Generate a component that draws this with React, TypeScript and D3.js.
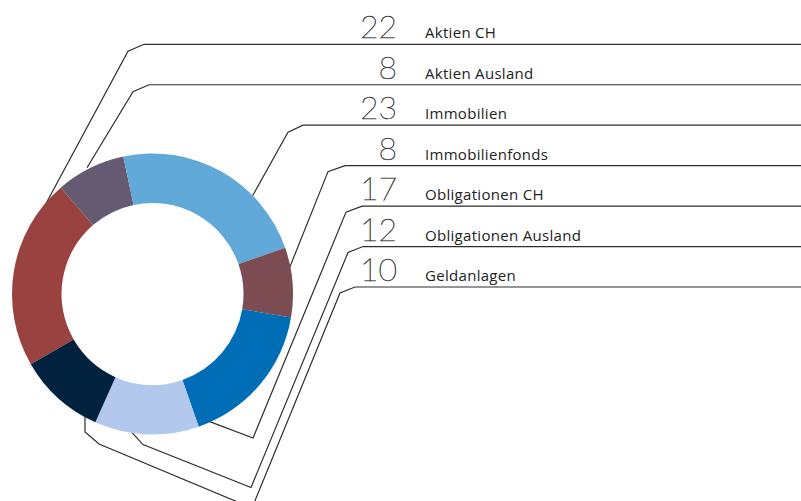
import React, { useEffect, useRef } from 'react';
import * as d3 from 'd3';

// Allocation in percent, in legend order (also clockwise order in the ring)
const categories = [
  'Aktien CH',
  'Aktien Ausland',
  'Immobilien',
  'Immobilienfonds',
  'Obligationen CH',
  'Obligationen Ausland',
  'Geldanlagen',
];
const values = [22, 8, 23, 8, 17, 12, 10];
const colors = ['#99423f', '#665a72', '#60a9d8', '#7b4c52', '#006db7', '#b3c8ed', '#00223f'];

const width = 801;
const height = 501;
const cx = 152.5;
const cy = 294;
const outerR = 140.5;
const innerR = 91;

// leader routes: x where the horizontal rule starts, then the bend points down to the ring
const routes: [number, number][][] = [
  [[144, 0], [128, 7], [44, 163]],
  [[149, 0], [133, 7], [87, 83]],
  [[303, 0], [288, 7], [249, 77]],
  [[345, 0], [328, 6], [288, 106]],
  [[362, 0], [346, 6], [253, 232], [211, 216], [205, 214]],
  [[363, 0], [348, 6], [251, 241], [143, 198], [133, 187], [129, 182]],
  [[355, 0], [340, 6], [252, 221], [99, 157], [85, 145], [85, 127]],
];

const App = () => {
  const svgRef = useRef(null);

  useEffect(() => {
    const svg = d3.select(svgRef.current);
    svg.selectAll('*').remove();

    const y = d3.scaleLinear().domain([0, categories.length - 1]).range([44.3, 287]);

    // leader lines (drawn under the ring)
    const lineGen = d3.line();
    const leaders = svg.append('g');
    routes.forEach((r, i) => {
      const y0 = y(i);
      const pts: [number, number][] = [[width, y0], ...r.map(([x, dy]) => [x, y0 + dy] as [number, number])];
      leaders.append('path')
        .attr('d', lineGen(pts))
        .attr('fill', 'none')
        .attr('stroke', '#2e2e2e')
        .attr('stroke-width', 1.2);
    });

    // donut
    const pie = d3.pie<number>()
      .sort(null)
      .value((d) => d)
      .startAngle(-120 * Math.PI / 180)
      .endAngle(240 * Math.PI / 180);
    const arc = d3.arc<d3.PieArcDatum<number>>().innerRadius(innerR).outerRadius(outerR);

    svg.append('g')
      .attr('transform', `translate(${cx},${cy})`)
      .selectAll('path')
      .data(pie(values))
      .join('path')
      .attr('d', arc)
      .attr('fill', (_, i) => colors[i]);

    // legend texts
    const legend = svg.append('g');
    legend.selectAll('text.num')
      .data(values)
      .join('text')
      .attr('class', 'num')
      .attr('x', 397)
      .attr('y', (_, i) => y(i) - 6)
      .attr('text-anchor', 'end')
      .style('font-family', 'Lato, sans-serif')
      .style('font-weight', 200)
      .style('font-size', '32px')
      .style('fill', '#333')
      .style('stroke', '#333')
      .style('stroke-width', 0.5)
      .text((d) => d);

    legend.selectAll('text.lab')
      .data(categories)
      .join('text')
      .attr('class', 'lab')
      .attr('x', 425)
      .attr('y', (_, i) => y(i) - 6)
      .style('font-family', '"Open Sans", sans-serif')
      .style('font-size', '15px')
      .style('letter-spacing', '0.3px')
      .style('fill', '#222')
      .text((d) => d);
  }, []);

  return (
    <svg
      ref={svgRef}
      width={width}
      height={height}
      style={{ position: 'absolute', left: 0, top: 0, background: '#fff' }}
    />
  );
};

export default App;
